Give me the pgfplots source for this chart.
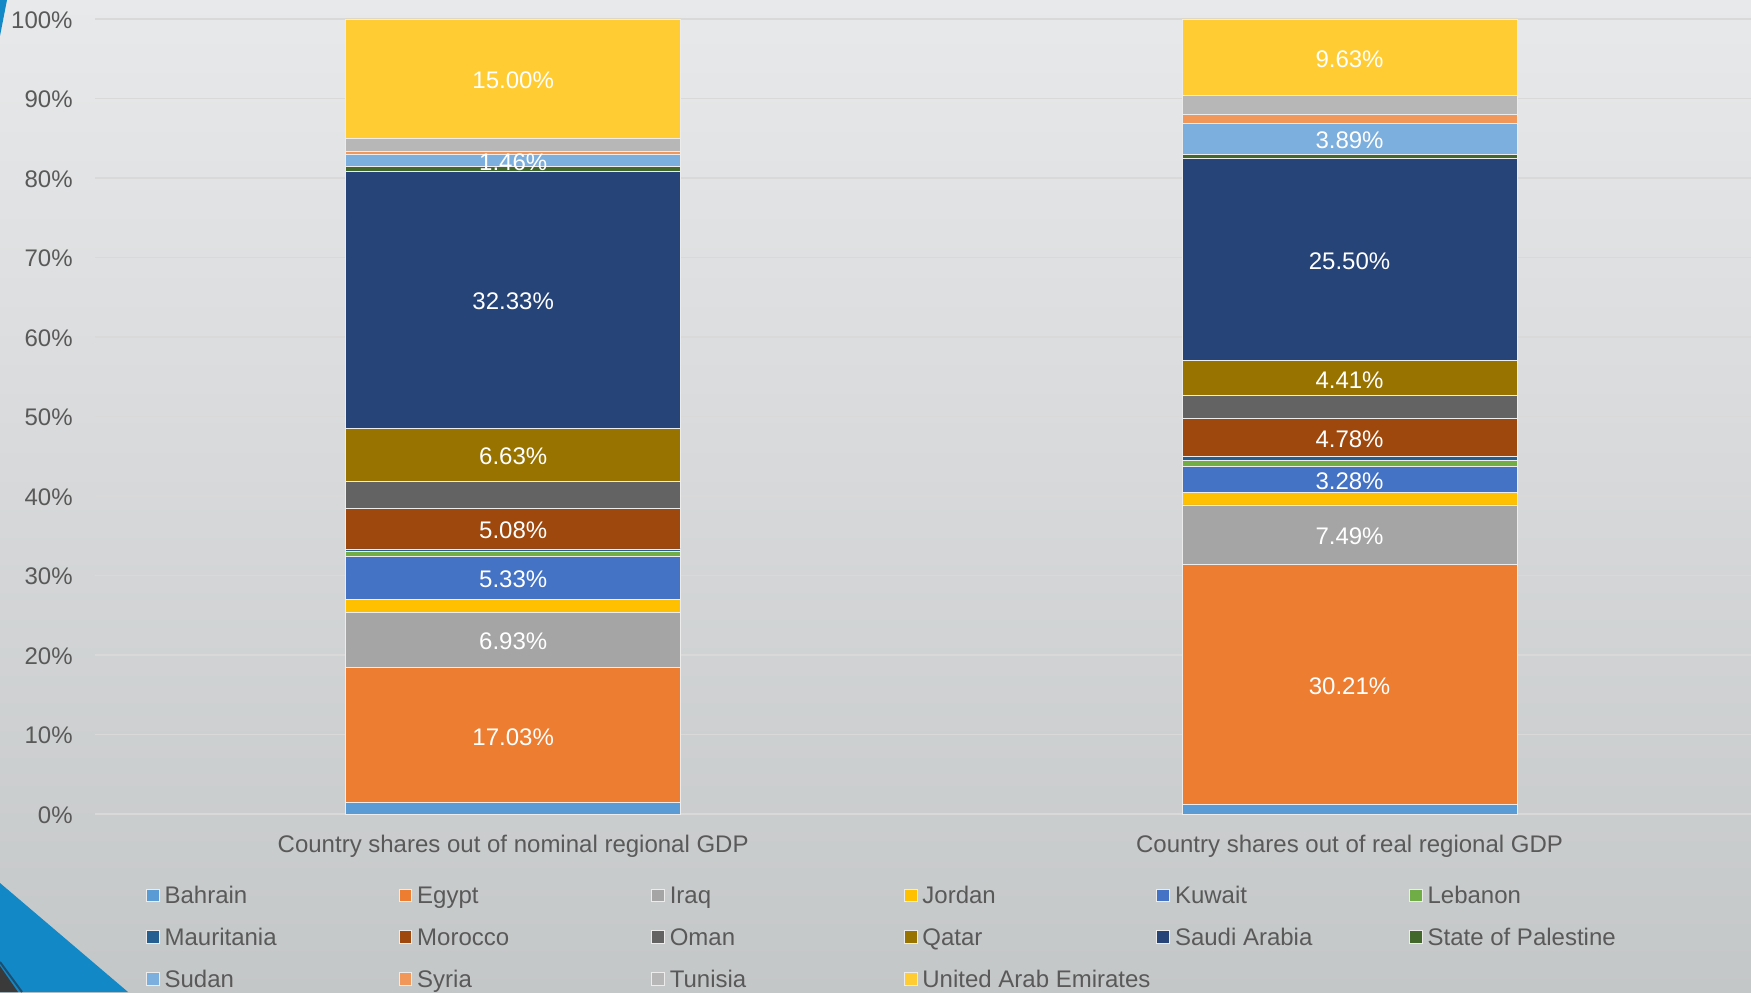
\documentclass[border=0pt]{standalone}
\usepackage{fontspec}
\setmainfont{Liberation Sans}
\usepackage{pgfplots}
\pgfplotsset{compat=1.18}

% Office palette
\definecolor{cBahrain}{HTML}{5B9BD5}
\definecolor{cEgypt}{HTML}{ED7D31}
\definecolor{cIraq}{HTML}{A5A5A5}
\definecolor{cJordan}{HTML}{FFC000}
\definecolor{cKuwait}{HTML}{4472C4}
\definecolor{cLebanon}{HTML}{70AD47}
\definecolor{cMauritania}{HTML}{255E91}
\definecolor{cMorocco}{HTML}{9E480E}
\definecolor{cOman}{HTML}{636363}
\definecolor{cQatar}{HTML}{997300}
\definecolor{cSaudi}{HTML}{264478}
\definecolor{cPalestine}{HTML}{43682B}
\definecolor{cSudan}{HTML}{7CAFDD}
\definecolor{cSyria}{HTML}{F1975A}
\definecolor{cTunisia}{HTML}{B7B7B7}
\definecolor{cUAE}{HTML}{FFCD33}
\definecolor{txtgray}{HTML}{595959}
\definecolor{gridc}{HTML}{D9D9D9}
\definecolor{bgtop}{HTML}{E8E9EA}
\definecolor{bgbot}{HTML}{C4C7C8}
\definecolor{slideblue}{HTML}{1288C6}
\definecolor{slidenavy}{HTML}{1B4F72}
\definecolor{cornergray}{HTML}{3A3A3A}

\newcommand{\legtxt}[1]{\makebox[117pt][l]{\strut #1}}
\newcommand{\chfont}{\fontsize{12}{14.4}\selectfont}

\begin{document}
\begin{tikzpicture}
\useasboundingbox (0,0) rectangle (875.5pt,496pt);
\clip (0,0) rectangle (875.5pt,496pt);
\shade[top color=bgtop, bottom color=bgbot] (0,0) rectangle (875.5pt,496pt);
\fill[slideblue] (0,54.5pt) -- (64pt,0) -- (0,0) -- cycle;
\fill[cornergray] (0,13pt) -- (9pt,0) -- (0,0) -- cycle;
\draw[slidenavy, line width=1pt] (0,15pt) -- (11pt,0);
\fill[slideblue] (0,496pt) -- (3.5pt,496pt) -- (0,478pt) -- cycle;
\begin{axis}[
    at={(47.5pt,89pt)}, anchor=south west,
    scale only axis, width=828pt, height=397.5pt,
    xmin=-0.5, xmax=1.48, ymin=0, ymax=100,
    ybar stacked, bar width=167.5pt,
    axis line style={draw=none},
    major tick length=0pt,
    ytick={0,10,...,100},
    yticklabel={\pgfmathprintnumber{\tick}\%},
    ymajorgrids,
    grid style={gridc, line width=0.75pt},
    xtick={0,1},
    xticklabels={Country shares out of nominal regional GDP, Country shares out of real regional GDP},
    /pgf/number format/assume math mode=true,
    tick label style={font=\chfont, text=txtgray},
    yticklabel style={anchor=east, inner sep=0pt, xshift=-11pt, yshift=-0.5pt},
    xticklabel style={anchor=north, inner sep=0pt, yshift=-10.3pt},
    every axis plot/.append style={draw=white!85!gray, line width=0.4pt},
    legend image code/.code={\fill[#1] (0pt,-3.2pt) rectangle (6.4pt,3.2pt);},
    legend columns=6,
    legend style={at={(0.0308,-0.0878)}, anchor=north west, draw=none, fill=none,
        inner sep=0pt, outer sep=0pt, row sep=9.2pt,
        font=\chfont, text=txtgray,
        nodes={inner sep=0pt, anchor=west},
        /tikz/every odd column/.append style={column sep=2.5pt}},
]
\addplot[fill=cBahrain] coordinates {(0,1.40) (1,1.18)};
\addlegendentry{\legtxt{Bahrain}}
\addplot[fill=cEgypt] coordinates {(0,17.03) (1,30.21)};
\addlegendentry{\legtxt{Egypt}}
\addplot[fill=cIraq] coordinates {(0,6.93) (1,7.49)};
\addlegendentry{\legtxt{Iraq}}
\addplot[fill=cJordan] coordinates {(0,1.68) (1,1.55)};
\addlegendentry{\legtxt{Jordan}}
\addplot[fill=cKuwait] coordinates {(0,5.33) (1,3.28)};
\addlegendentry{\legtxt{Kuwait}}
\addplot[fill=cLebanon] coordinates {(0,0.63) (1,0.72)};
\addlegendentry{\legtxt{Lebanon}}
\addplot[fill=cMauritania] coordinates {(0,0.34) (1,0.54)};
\addlegendentry{\legtxt{Mauritania}}
\addplot[fill=cMorocco] coordinates {(0,5.08) (1,4.78)};
\addlegendentry{\legtxt{Morocco}}
\addplot[fill=cOman] coordinates {(0,3.44) (1,2.85)};
\addlegendentry{\legtxt{Oman}}
\addplot[fill=cQatar] coordinates {(0,6.63) (1,4.41)};
\addlegendentry{\legtxt{Qatar}}
\addplot[fill=cSaudi] coordinates {(0,32.33) (1,25.50)};
\addlegendentry{\legtxt{Saudi Arabia}}
\addplot[fill=cPalestine] coordinates {(0,0.63) (1,0.50)};
\addlegendentry{\legtxt{State of Palestine}}
\addplot[fill=cSudan] coordinates {(0,1.46) (1,3.89)};
\addlegendentry{\legtxt{Sudan}}
\addplot[fill=cSyria] coordinates {(0,0.42) (1,1.08)};
\addlegendentry{\legtxt{Syria}}
\addplot[fill=cTunisia] coordinates {(0,1.67) (1,2.39)};
\addlegendentry{\legtxt{Tunisia}}
\addplot[fill=cUAE] coordinates {(0,15.00) (1,9.63)};
\addlegendentry{\legtxt{United Arab Emirates}}
\end{axis}
% data labels, centred in their segments
\begin{axis}[
    at={(47.5pt,89pt)}, anchor=south west,
    scale only axis, width=828pt, height=397.5pt,
    xmin=-0.5, xmax=1.48, ymin=0, ymax=100,
    hide axis, clip=false,
]
\addplot[only marks, mark=none, point meta=explicit symbolic,
    nodes near coords={\pgfplotspointmeta\%},
    nodes near coords style={anchor=center, inner sep=0pt, text=white, font=\chfont, yshift=-0.8pt}]
coordinates {
    (0,9.915) [17.03] (0,21.895) [6.93] (0,29.705) [5.33] (0,35.88) [5.08]
    (0,45.175) [6.63] (0,64.655) [32.33] (0,82.18) [1.46] (0,92.50) [15.00]
    (1,16.285) [30.21] (1,35.135) [7.49] (1,42.07) [3.28] (1,47.36) [4.78]
    (1,54.805) [4.41] (1,69.76) [25.50] (1,84.955) [3.89] (1,95.185) [9.63]
};
\end{axis}
\end{tikzpicture}
\end{document}
